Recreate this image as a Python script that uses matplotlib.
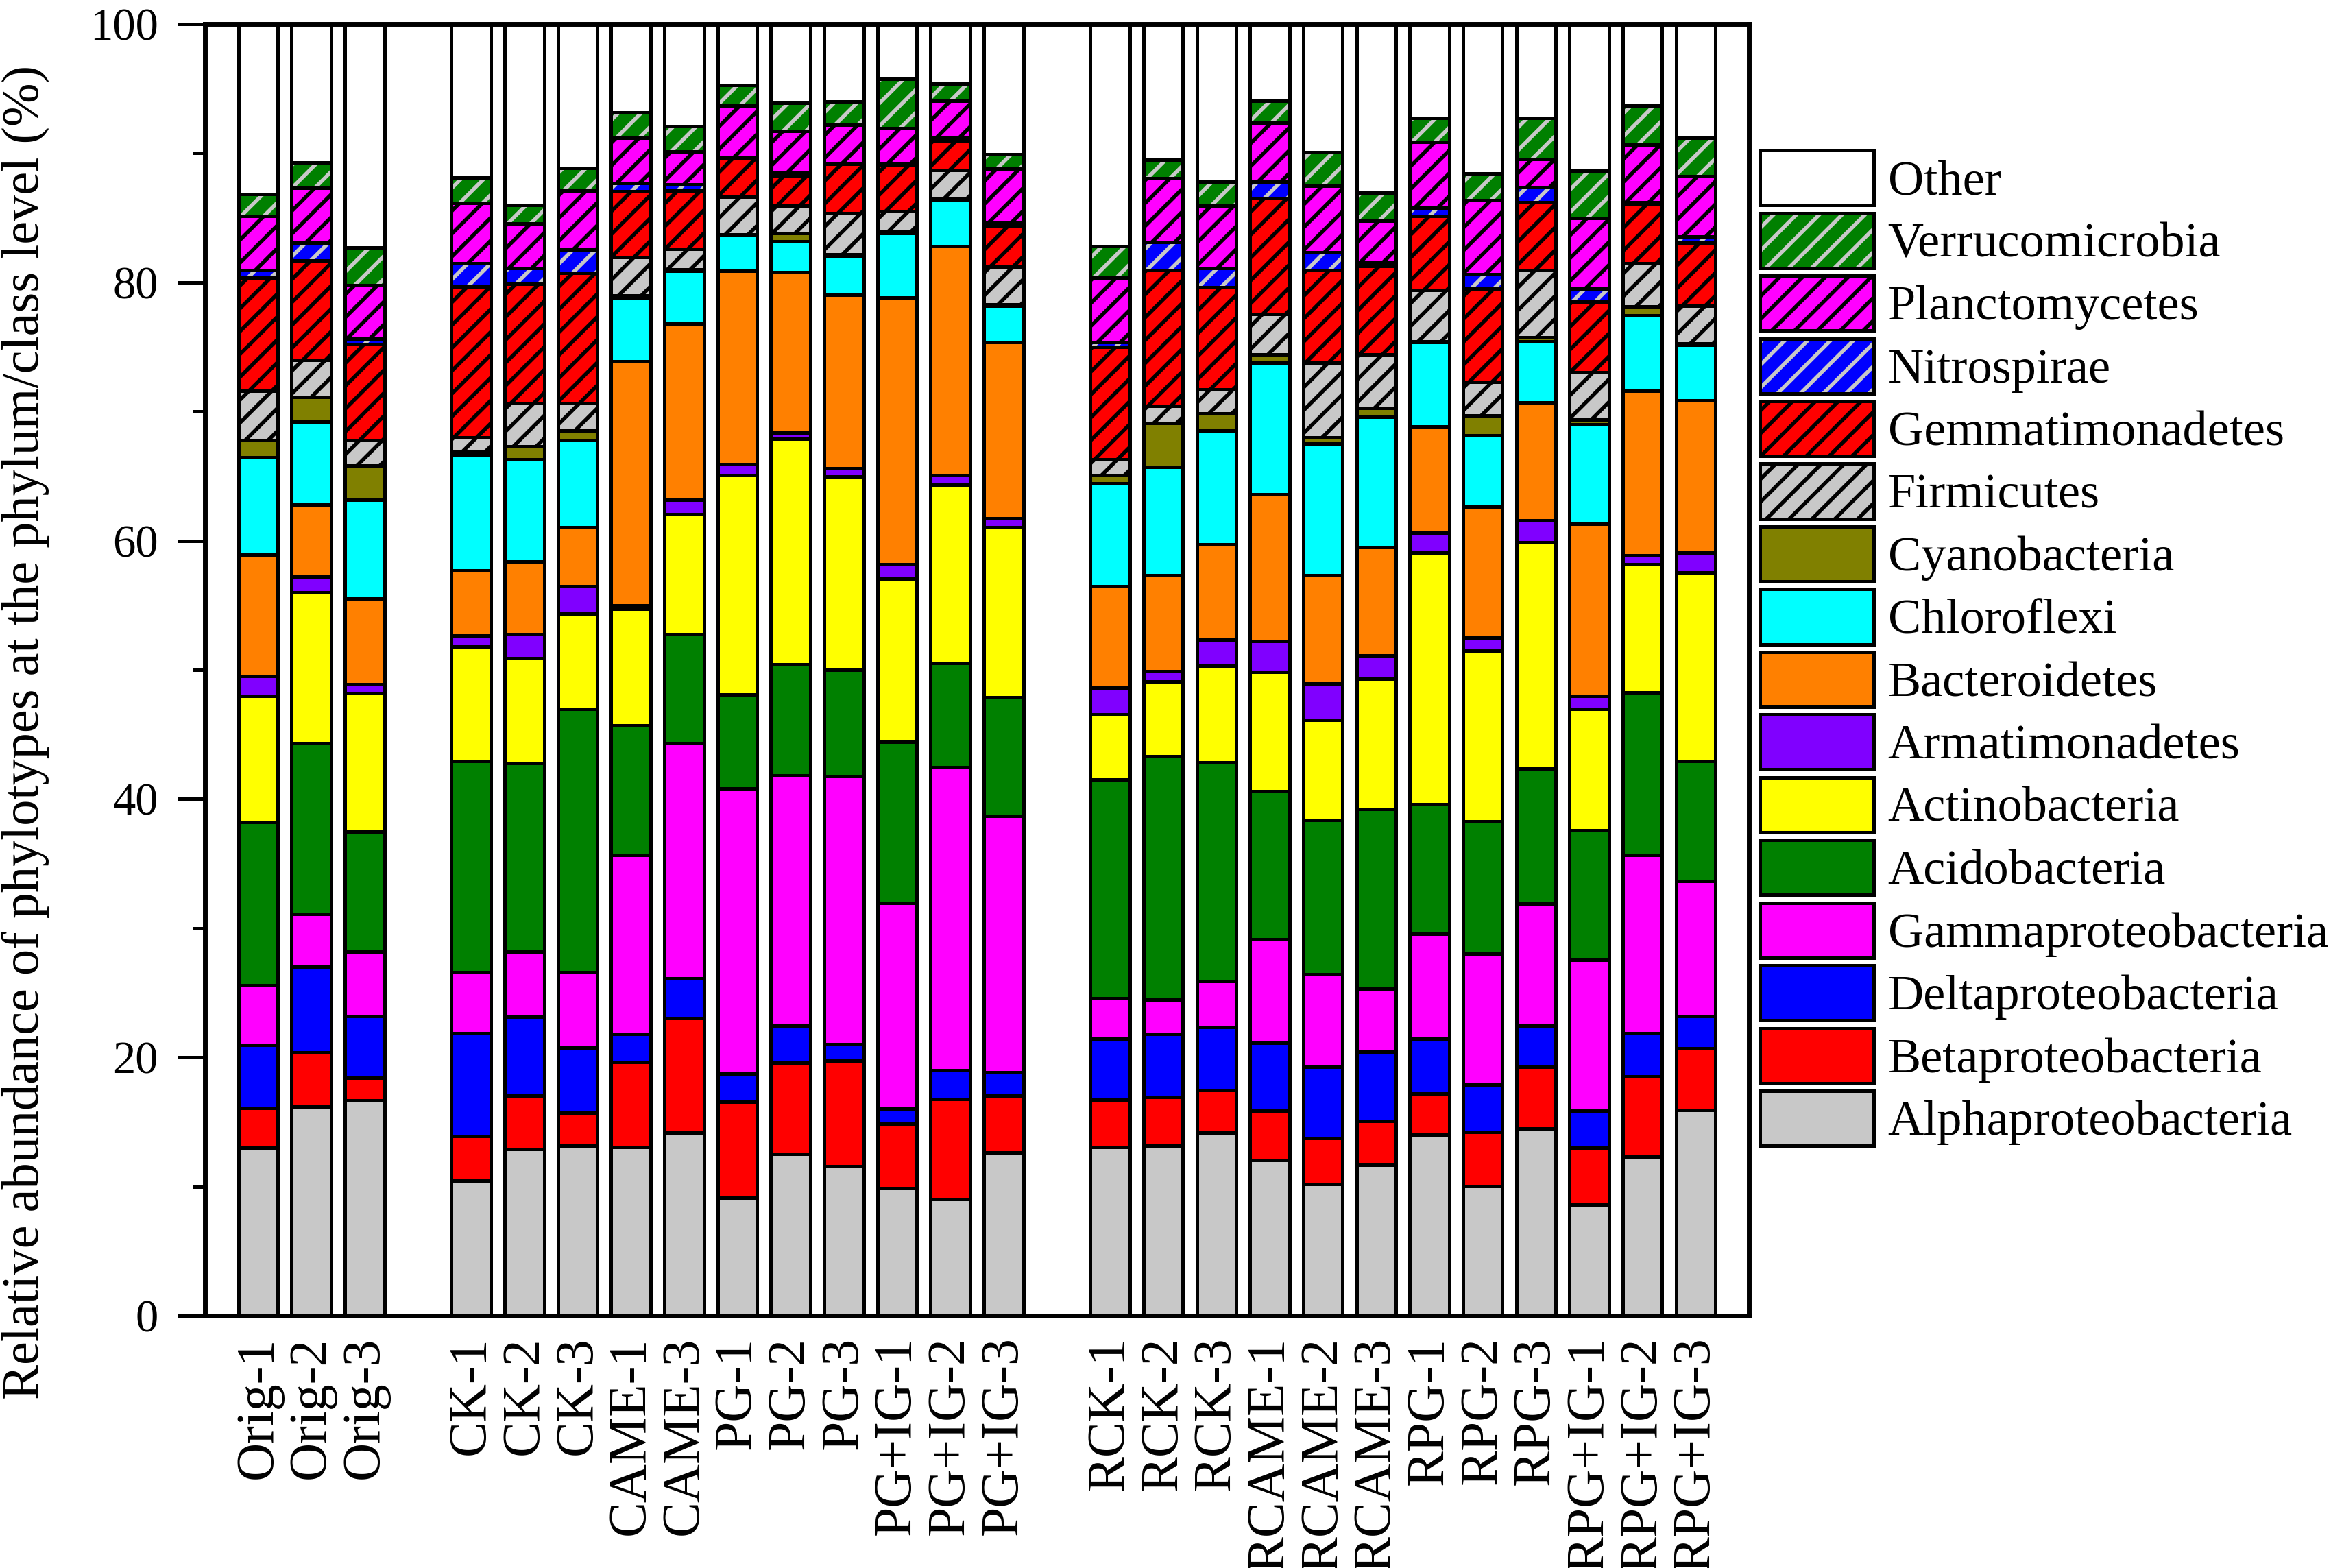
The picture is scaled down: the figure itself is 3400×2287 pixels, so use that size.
import numpy as np
import matplotlib
matplotlib.use('Agg')
import matplotlib.pyplot as plt
from matplotlib.patches import Patch
from matplotlib.ticker import MultipleLocator

plt.rcParams['font.family'] = ['Liberation Serif', 'DejaVu Serif']
plt.rcParams['hatch.linewidth'] = 2.0

samples = ['Orig-1', 'Orig-2', 'Orig-3',
           'CK-1', 'CK-2', 'CK-3', 'CAME-1', 'CAME-3', 'PG-1', 'PG-2', 'PG-3',
           'PG+IG-1', 'PG+IG-2', 'PG+IG-3',
           'RCK-1', 'RCK-2', 'RCK-3', 'RCAME-1', 'RCAME-2', 'RCAME-3',
           'RPG-1', 'RPG-2', 'RPG-3', 'RPG+IG-1', 'RPG+IG-2', 'RPG+IG-3']
# slot of each bar on the x axis (gaps between the three groups)
slots = [1, 2, 3] + list(range(5, 16)) + list(range(17, 29))

# relative abundance (%) of each taxon, bottom to top
alpha = [13.0, 16.2, 16.65, 10.45, 12.9, 13.15, 13.05, 14.15, 9.15, 12.55, 11.55, 9.85, 9.05, 12.65,
         13.05, 13.15, 14.15, 12.05, 10.2, 11.7, 14.0, 10.05, 14.5, 8.6, 12.3, 15.95]
beta = [3.1, 4.2, 1.75, 3.45, 4.15, 2.55, 6.6, 8.9, 7.4, 7.05, 8.2, 5.0, 7.75, 4.4,
        3.65, 3.8, 3.3, 3.8, 3.55, 3.4, 3.2, 4.15, 4.75, 4.4, 6.25, 4.75]
delta = [4.85, 6.6, 4.8, 7.95, 6.1, 5.05, 2.15, 3.05, 2.2, 2.85, 1.25, 1.2, 2.2, 1.8,
         4.75, 4.85, 4.9, 5.25, 5.5, 5.35, 4.25, 3.7, 3.2, 2.85, 3.3, 2.5]
gamma = [4.65, 4.1, 5.0, 4.75, 5.05, 5.85, 13.85, 18.2, 22.05, 19.4, 20.75, 15.9, 23.45, 19.85,
         3.1, 2.65, 3.55, 8.05, 7.2, 4.85, 8.1, 10.15, 9.45, 11.7, 13.8, 10.45]
acido = [12.6, 13.2, 9.3, 16.35, 14.6, 20.4, 10.05, 8.45, 7.3, 8.6, 8.25, 12.5, 8.1, 9.2,
         16.95, 18.85, 16.95, 11.45, 11.95, 13.9, 10.05, 10.2, 10.45, 10.05, 12.6, 9.3]
actino = [9.8, 11.7, 10.7, 8.85, 8.1, 7.35, 9.0, 9.3, 16.95, 17.45, 14.95, 12.6, 13.8, 13.15,
          5.05, 5.8, 7.45, 9.25, 7.75, 10.1, 19.5, 13.25, 17.5, 9.4, 9.9, 14.6]
armat = [1.5, 1.2, 0.7, 0.85, 1.85, 2.15, 0.3, 1.1, 0.9, 0.45, 0.65, 1.1, 0.75, 0.7,
         2.05, 0.8, 2.05, 2.4, 2.8, 1.8, 1.5, 1.0, 1.7, 1.0, 0.7, 1.55]
bact = [9.4, 5.6, 6.6, 5.05, 5.65, 4.55, 18.9, 13.65, 14.95, 12.45, 13.45, 20.65, 17.7, 13.6,
        7.9, 7.4, 7.35, 11.35, 8.35, 8.4, 8.25, 10.15, 9.15, 13.3, 12.75, 11.75]
chloro = [7.55, 6.4, 7.65, 8.95, 7.9, 6.75, 4.9, 4.1, 2.75, 2.4, 3.0, 5.0, 3.55, 2.85,
          7.95, 8.4, 8.8, 10.2, 10.2, 10.1, 6.5, 5.5, 4.75, 7.7, 5.85, 4.3]
cyano = [1.35, 1.9, 2.65, 0.3, 1.0, 0.7, 0.2, 0.1, 0.05, 0.6, 0.1, 0.1, 0.1, 0.1,
         0.65, 3.4, 1.35, 0.6, 0.5, 0.65, 0.1, 1.55, 0.3, 0.4, 0.7, 0.1]
firm = [3.8, 2.9, 2.0, 1.05, 3.35, 2.15, 2.95, 1.6, 2.9, 2.15, 3.2, 1.6, 2.25, 2.9,
        1.2, 1.35, 1.85, 3.15, 5.8, 4.15, 3.95, 2.6, 5.2, 3.65, 3.3, 2.95]
gemm = [8.75, 7.7, 7.4, 11.65, 9.25, 10.1, 5.1, 4.5, 3.0, 2.3, 3.8, 3.55, 2.2, 3.2,
        8.7, 10.5, 7.9, 8.95, 7.15, 6.85, 5.75, 7.2, 5.25, 5.45, 4.65, 4.85]
nitro = [0.6, 1.35, 0.45, 1.8, 1.2, 1.8, 0.65, 0.5, 0.1, 0.3, 0.1, 0.15, 0.3, 0.2,
         0.35, 2.15, 1.5, 1.3, 1.4, 0.3, 0.6, 1.1, 1.15, 1.0, 0.1, 0.5]
plancto = [4.2, 4.25, 4.15, 4.7, 3.45, 4.55, 3.5, 2.55, 4.0, 3.15, 2.95, 2.75, 2.85, 4.2,
           5.0, 4.95, 4.85, 4.55, 5.1, 3.2, 5.1, 5.75, 2.2, 5.5, 4.45, 4.65]
verruco = [1.7, 2.0, 2.9, 1.95, 1.45, 1.75, 1.95, 1.95, 1.6, 2.2, 1.8, 3.8, 1.35, 1.1,
           2.45, 1.45, 1.85, 1.7, 2.6, 2.2, 1.9, 2.1, 3.2, 3.65, 3.05, 3.0]

layers = [alpha, beta, delta, gamma, acido, actino, armat, bact,
          chloro, cyano, firm, gemm, nitro, plancto, verruco]
other = 100 - np.sum(layers, axis=0)
layers.append(other)

names = ['Alphaproteobacteria', 'Betaproteobacteria', 'Deltaproteobacteria',
         'Gammaproteobacteria', 'Acidobacteria', 'Actinobacteria', 'Armatimonadetes',
         'Bacteroidetes', 'Chloroflexi', 'Cyanobacteria', 'Firmicutes',
         'Gemmatimonadetes', 'Nitrospirae', 'Planctomycetes', 'Verrucomicrobia', 'Other']
faces = ['#C8C8C8', '#FF0000', '#0000FF', '#FF00FF', '#008000', '#FFFF00', '#8000FF',
         '#FF8000', '#00FFFF', '#808000', '#C8C8C8', '#FF0000', '#0000FF', '#FF00FF',
         '#008000', '#FFFFFF']
hatch_cols = [None] * 10 + ['black', 'black', '#C8C8C8', 'black', '#C8C8C8', None]

fig = plt.figure(figsize=(17, 11.435), dpi=200)
ax = fig.add_axes([0.0879, 0.1609, 0.7503 - 0.0879, 0.9847 - 0.1609])

w = 0.74
lw = 1.8
bottom = np.zeros(len(samples))
handles = []
for vals, name, fc, hc in zip(layers, names, faces, hatch_cols):
    vals = np.asarray(vals, dtype=float)
    if hc is None:
        ax.bar(slots, vals, w, bottom=bottom, color=fc, edgecolor='black', linewidth=lw)
        h = Patch(facecolor=fc, edgecolor='black', linewidth=lw)
    else:
        # hatch drawn in its own colour, black outline on top
        ax.bar(slots, vals, w, bottom=bottom, color=fc, edgecolor=hc, hatch='//', linewidth=0)
        ax.bar(slots, vals, w, bottom=bottom, fill=False, edgecolor='black', linewidth=lw)
        h = (Patch(facecolor=fc, edgecolor=hc, hatch='//', linewidth=0),
             Patch(fill=False, edgecolor='black', linewidth=lw))
    handles.append(h)
    bottom += vals

ax.set_xlim(0, 29)
ax.set_ylim(0, 100)
ax.set_xticks(slots)
ax.set_xticklabels(samples, rotation=90, fontsize=28)
ax.tick_params(axis='x', length=0, pad=11)
ax.yaxis.set_major_locator(MultipleLocator(20))
ax.yaxis.set_minor_locator(MultipleLocator(10))
ax.tick_params(axis='y', which='major', direction='out', length=14.5, width=1.8, labelsize=24, pad=10)
ax.tick_params(axis='y', which='minor', direction='out', length=6.5, width=1.8)
for s in ax.spines.values():
    s.set_linewidth(2.5)

ax.set_ylabel('Relative abundance of phylotypes at the phylum/class level (%)', fontsize=27.5)
ax.yaxis.set_label_coords(-0.1005, 0.452)

fig.legend(handles[::-1], names[::-1], loc='upper left', bbox_to_anchor=(0.7551, 0.9042),
           frameon=False, fontsize=26, borderpad=0, borderaxespad=0,
           handlelength=2.3, handleheight=1.33, handletextpad=0.28, labelspacing=0.157)

fig.savefig('out.png', dpi=200)
